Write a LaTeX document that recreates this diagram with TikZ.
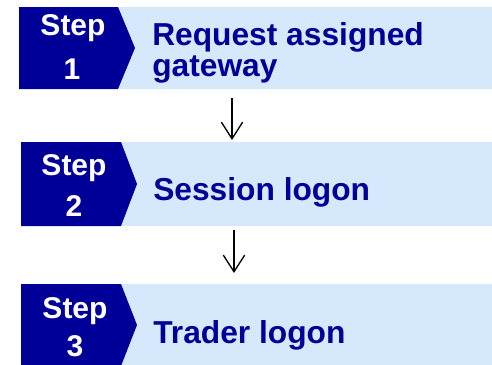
\documentclass[tikz,border=0pt]{standalone}
\usepackage{fontspec}
\setmainfont{Liberation Sans}
\usetikzlibrary{arrows.meta}
\definecolor{stepblue}{RGB}{0,0,153}
\definecolor{panelblue}{RGB}{214,233,252}
\tikzset{
  panel/.style={fill=panelblue, draw=none, anchor=north west, inner sep=0pt, minimum width=374*0.75pt},
  steptag/.style={fill=stepblue, draw=none},
  steptext/.style={text=white, font=\bfseries\fontsize{22.5pt}{24pt}\selectfont, anchor=base, inner sep=0pt},
  label/.style={text=stepblue, font=\bfseries\fontsize{23.8pt}{26pt}\selectfont, anchor=base west, inner sep=0pt},
  flow/.style={-{Straight Barb[length=12.5pt,width=16pt]}, line width=1pt, black}
}
\begin{document}
\begin{tikzpicture}[x=0.75pt, y=-0.75pt]
\useasboundingbox (0,0) rectangle (492,364);
% light panels
\node[panel, minimum height=82*0.75pt] (r1) at (118,7) {};
\node[panel, minimum height=84*0.75pt] (r2) at (121,142) {};
\node[panel, minimum height=86*0.75pt] (r3) at (121,284) {};
% step tags
\fill[steptag] (19,7) -- (118,7) -- (135,48) -- (118,89) -- (19,89) -- cycle;
\fill[steptag] (21,142) -- (121,142) -- (137,184) -- (121,226) -- (21,226) -- cycle;
\fill[steptag] (21,284) -- (121,284) -- (137,325) -- (121,366) -- (21,366) -- cycle;
% tag texts
\node[steptext] (s1a) at (73,36) {Step};
\node[steptext] (s1b) at (72,79) {1};
\node[steptext] (s2a) at (74,175) {Step};
\node[steptext] (s2b) at (74,216) {2};
\node[steptext] (s3a) at (75,318) {Step};
\node[steptext] (s3b) at (75,356) {3};
% panel texts
\node[label] (t1a) at (152,45) {Request assigned};
\node[label] (t1b) at (152,76) {gateway};
\node[label] (t2) at (153,200) {Session logon};
\node[label] (t3) at (153,343) {Trader logon};
% arrows between steps
\draw[flow] ([shift={(114,8)}]r1.south west) -- ([shift={(111,-2)}]r2.north west);
\draw[flow] ([shift={(113,3)}]r2.south west) -- ([shift={(113,-11)}]r3.north west);
\end{tikzpicture}
\end{document}
